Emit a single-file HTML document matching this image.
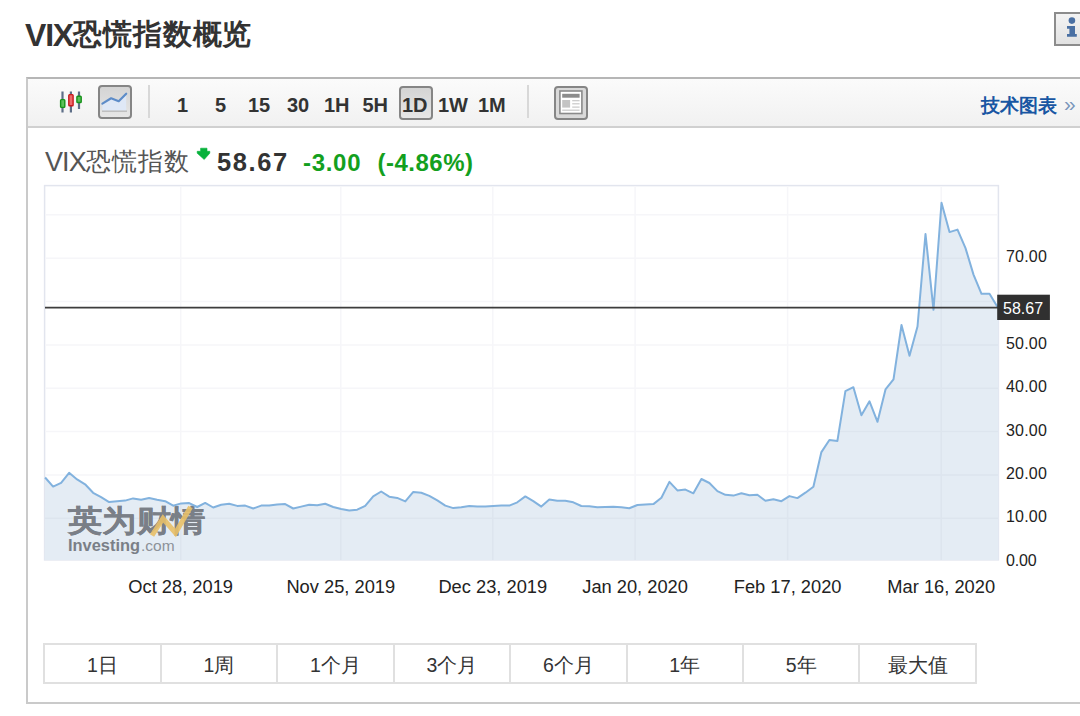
<!DOCTYPE html>
<html><head><meta charset="utf-8">
<style>
html,body{margin:0;padding:0;background:#fff;width:1080px;height:716px;overflow:hidden;position:relative;font-family:"Liberation Sans",sans-serif;}
.abs{position:absolute;}
#title{left:25px;top:14.8px;font-size:30px;font-weight:bold;color:#333;line-height:40px;white-space:nowrap}
#info{left:1054px;top:12px;width:40px;height:29.5px;border:2px solid #8c8c8c;background:linear-gradient(#f3f3f3,#e2e2e2);box-sizing:content-box}
#panel{left:26px;top:77px;width:1100px;height:623px;border:2px solid #cacaca;border-top-color:#b6b6b6;}
#toolbar{left:28px;top:79px;width:1100px;height:47px;background:linear-gradient(#fbfbfb,#f1f1f1);border-bottom:2px solid #d0d0d0;}
.tf{top:91px;font-size:20px;font-weight:bold;color:#333;line-height:28px;white-space:nowrap}
.btn{border:2px solid #858585;border-radius:4px;background:linear-gradient(#d4d4d4,#e6e6e6);box-sizing:border-box}
.sep{width:2px;background:#d8d8d8}
#tech{left:981px;top:90.5px;font-size:19px;font-weight:bold;color:#1856a3;line-height:30px;white-space:nowrap}
#raquo{left:1064px;top:88.5px;font-size:21px;color:#7a96bb;line-height:30px;font-weight:normal}
#qname{left:45px;top:146px;font-size:25.6px;color:#555;line-height:32px;white-space:nowrap}
#qprice{left:217px;top:146px;font-size:25.5px;font-weight:bold;color:#333;line-height:32px;white-space:nowrap;letter-spacing:1.6px}
#qchg{left:303px;top:148px;font-size:24px;font-weight:bold;color:#13a01e;line-height:30px;white-space:nowrap;letter-spacing:0.7px}
#qpct{left:377.5px;top:148px;font-size:24px;font-weight:bold;color:#13a01e;line-height:30px;white-space:nowrap;letter-spacing:0.5px}
.cell{position:absolute;top:643px;height:41px;border:2px solid #e0e0e0;border-right:none;box-sizing:border-box;text-align:center;font-size:19.5px;line-height:40px;color:#333}
svg text{font-family:"Liberation Sans",sans-serif;}
</style></head><body>
<div id="title" class="abs"><span style="font-size:32px;letter-spacing:-1.2px">VIX</span><span style="font-size:28.5px;letter-spacing:0.9px;position:relative;top:-2px">恐慌指数概览</span></div>
<div id="info" class="abs">
 <svg width="30" height="31" style="position:absolute;left:0;top:0">
  <circle cx="15.9" cy="6.6" r="3.3" fill="#4a70a3"/>
  <path d="M11,12 H19 V20 H20.8 V22.8 H11 V20 H13.4 V14.8 H11 Z" fill="#4a70a3"/>
 </svg>
</div>
<div id="panel" class="abs"></div>
<div id="toolbar" class="abs"></div>
<svg class="abs" style="left:0;top:0" width="1080" height="130">
 <g stroke="#5e6f88" stroke-width="2.2">
  <line x1="62.5" y1="91.5" x2="62.5" y2="112.5"/><line x1="70.9" y1="91.5" x2="70.9" y2="112.5"/><line x1="79" y1="91.5" x2="79" y2="109"/>
 </g>
 <rect x="60.6" y="99.6" width="4.2" height="7.8" rx="0.8" fill="#5cc05a" stroke="#15921a" stroke-width="1.4"/>
 <rect x="68.8" y="94.6" width="4.3" height="11.2" rx="0.8" fill="#ec6b6b" stroke="#c8191e" stroke-width="1.4"/>
 <rect x="76.9" y="96.3" width="4.3" height="6.2" rx="0.8" fill="#5cc05a" stroke="#15921a" stroke-width="1.4"/>
</svg>
<div class="abs btn" style="left:98px;top:85px;width:34px;height:34px"></div>
<svg class="abs" style="left:0;top:0" width="1080" height="130">
 <path d="M102.4,103.6 L111.1,98.3 L118.7,101.2 L126.2,93.7 L126.2,111 L102.4,111 Z" fill="#dfe8f6"/>
 <polyline points="102.4,103.6 111.1,98.3 118.7,101.2 126.2,93.7" fill="none" stroke="#5d8cc8" stroke-width="2.2" stroke-linejoin="round" stroke-linecap="round"/>
 <line x1="102" y1="111.2" x2="127" y2="111.2" stroke="#bdbdbd" stroke-width="1.5"/>
</svg>
<div class="abs sep" style="left:148px;top:85px;height:33px"></div>
<div class="abs tf" style="left:177px">1</div>
<div class="abs tf" style="left:215px">5</div>
<div class="abs tf" style="left:248px">15</div>
<div class="abs tf" style="left:287px">30</div>
<div class="abs tf" style="left:324px">1H</div>
<div class="abs tf" style="left:362.5px">5H</div>
<div class="abs btn" style="left:399px;top:85.5px;width:33.5px;height:34px"></div>
<div class="abs tf" style="left:402px">1D</div>
<div class="abs tf" style="left:438px">1W</div>
<div class="abs tf" style="left:478px">1M</div>
<div class="abs sep" style="left:526.5px;top:85px;height:33px"></div>
<div class="abs btn" style="left:554px;top:85.5px;width:33.5px;height:34px;background:#d9d9d9"></div>
<svg class="abs" style="left:0;top:0" width="1080" height="130">
 <rect x="559.9" y="91" width="22" height="22.5" fill="#fff" stroke="#8a8a8a" stroke-width="1.6"/>
 <rect x="562.2" y="93.8" width="17.4" height="3.9" fill="#8c8c8c"/>
 <rect x="562.2" y="100" width="7.9" height="7.6" fill="#c4c4c4"/>
 <g stroke="#c8c8c8" stroke-width="1.2"><line x1="572.2" x2="579.6" y1="100.7" y2="100.7"/><line x1="572.2" x2="579.6" y1="103.8" y2="103.8"/><line x1="572.2" x2="579.6" y1="107.1" y2="107.1"/><line x1="562.2" x2="579.6" y1="110.2" y2="110.2"/></g>
</svg>
<div id="tech" class="abs">技术图表</div>
<div id="raquo" class="abs">&raquo;</div>

<div id="qname" class="abs"><span style="font-size:27px;letter-spacing:-0.9px">VIX</span><span style="font-size:24.6px;letter-spacing:1px;position:relative;top:-1px">恐慌指数</span></div>
<svg class="abs" style="left:196px;top:147px" width="16" height="14">
 <path d="M4.6,1.2 H11 V4.3 H13.8 V6.2 L8.2,12.5 L1.2,6.2 V4.3 H4.6 Z" fill="#07b13b" stroke="#07b13b" stroke-width="0.6" stroke-linejoin="round"/>
</svg>
<div id="qprice" class="abs">58.67</div>
<div id="qchg" class="abs">-3.00</div>
<div id="qpct" class="abs">(-4.86%)</div>

<svg class="abs" style="left:0;top:0" width="1080" height="716">
 <rect x="44.6" y="185.6" width="953.8" height="374.3" fill="#fff" stroke="#e2e5ee" stroke-width="1.5"/>
 <g stroke="#f6f6f9" stroke-width="1.5"><line x1="45" x2="998" y1="518.2" y2="518.2"/><line x1="45" x2="998" y1="474.9" y2="474.9"/><line x1="45" x2="998" y1="431.6" y2="431.6"/><line x1="45" x2="998" y1="388.2" y2="388.2"/><line x1="45" x2="998" y1="344.9" y2="344.9"/><line x1="45" x2="998" y1="301.5" y2="301.5"/><line x1="45" x2="998" y1="258.2" y2="258.2"/><line x1="45" x2="998" y1="214.8" y2="214.8"/><line x1="180.7" x2="180.7" y1="186" y2="559.9"/><line x1="340.8" x2="340.8" y1="186" y2="559.9"/><line x1="492.8" x2="492.8" y1="186" y2="559.9"/><line x1="635.1" x2="635.1" y1="186" y2="559.9"/><line x1="787.6" x2="787.6" y1="186" y2="559.9"/><line x1="941.2" x2="941.2" y1="186" y2="559.9"/></g>
 <path d="M44.6,559.9 L45.1,477.5 L53.1,486.6 L61.1,482.9 L69.1,472.8 L77.1,479.4 L85.1,484.3 L93.1,492.8 L101.1,497.2 L109.1,502.1 L117.1,501.2 L125.1,500.6 L133.1,498.4 L141.1,499.7 L149.1,498.0 L157.1,499.7 L165.2,501.2 L173.2,505.7 L181.2,503.4 L189.2,503.1 L197.2,507.0 L205.2,502.9 L213.2,507.5 L221.2,504.8 L229.2,503.8 L237.2,505.9 L245.2,505.6 L253.2,508.5 L261.2,505.6 L269.2,505.6 L277.2,504.4 L285.2,504.1 L293.2,508.5 L301.2,506.6 L309.2,504.8 L317.2,505.3 L325.2,503.8 L333.2,507.0 L341.2,509.0 L349.2,510.5 L357.2,509.7 L365.2,505.9 L373.2,496.4 L381.2,491.5 L389.2,496.7 L397.2,497.9 L405.3,501.4 L413.3,491.9 L421.3,492.7 L429.3,495.9 L437.3,500.4 L445.3,505.6 L453.3,508.1 L461.3,507.3 L469.3,505.9 L477.3,506.4 L485.3,506.4 L493.3,505.9 L501.3,505.6 L509.3,505.6 L517.3,502.3 L525.3,496.4 L533.3,501.1 L541.3,506.6 L549.3,499.6 L557.3,500.7 L565.3,500.8 L573.3,502.3 L581.3,506.0 L589.3,506.3 L597.3,507.3 L605.3,507.0 L613.3,506.7 L621.3,507.3 L629.3,508.2 L637.4,505.0 L645.4,504.4 L653.4,504.1 L661.4,497.8 L669.4,481.9 L677.4,490.4 L685.4,489.6 L693.4,493.3 L701.4,479.0 L709.4,483.0 L717.4,491.1 L725.4,494.8 L733.4,495.6 L741.4,493.3 L749.4,495.3 L757.4,494.8 L765.4,500.7 L773.4,499.3 L781.4,501.2 L789.4,496.1 L797.4,498.1 L805.4,492.7 L813.4,486.7 L821.4,452.1 L829.4,440.0 L837.4,440.9 L845.4,391.1 L853.4,387.2 L861.4,415.3 L869.5,401.3 L877.5,421.8 L885.5,389.4 L893.5,379.3 L901.5,325.0 L909.5,355.8 L917.5,326.5 L925.5,234.0 L933.5,309.8 L941.5,202.7 L949.5,232.1 L957.5,229.6 L965.5,248.1 L973.5,274.6 L981.5,293.8 L989.5,293.8 L997.5,306.9 L998.4,306.9 L998.4,559.9 Z" fill="#e4ecf4"/>
 <clipPath id="ac"><path d="M44.6,559.9 L45.1,477.5 L53.1,486.6 L61.1,482.9 L69.1,472.8 L77.1,479.4 L85.1,484.3 L93.1,492.8 L101.1,497.2 L109.1,502.1 L117.1,501.2 L125.1,500.6 L133.1,498.4 L141.1,499.7 L149.1,498.0 L157.1,499.7 L165.2,501.2 L173.2,505.7 L181.2,503.4 L189.2,503.1 L197.2,507.0 L205.2,502.9 L213.2,507.5 L221.2,504.8 L229.2,503.8 L237.2,505.9 L245.2,505.6 L253.2,508.5 L261.2,505.6 L269.2,505.6 L277.2,504.4 L285.2,504.1 L293.2,508.5 L301.2,506.6 L309.2,504.8 L317.2,505.3 L325.2,503.8 L333.2,507.0 L341.2,509.0 L349.2,510.5 L357.2,509.7 L365.2,505.9 L373.2,496.4 L381.2,491.5 L389.2,496.7 L397.2,497.9 L405.3,501.4 L413.3,491.9 L421.3,492.7 L429.3,495.9 L437.3,500.4 L445.3,505.6 L453.3,508.1 L461.3,507.3 L469.3,505.9 L477.3,506.4 L485.3,506.4 L493.3,505.9 L501.3,505.6 L509.3,505.6 L517.3,502.3 L525.3,496.4 L533.3,501.1 L541.3,506.6 L549.3,499.6 L557.3,500.7 L565.3,500.8 L573.3,502.3 L581.3,506.0 L589.3,506.3 L597.3,507.3 L605.3,507.0 L613.3,506.7 L621.3,507.3 L629.3,508.2 L637.4,505.0 L645.4,504.4 L653.4,504.1 L661.4,497.8 L669.4,481.9 L677.4,490.4 L685.4,489.6 L693.4,493.3 L701.4,479.0 L709.4,483.0 L717.4,491.1 L725.4,494.8 L733.4,495.6 L741.4,493.3 L749.4,495.3 L757.4,494.8 L765.4,500.7 L773.4,499.3 L781.4,501.2 L789.4,496.1 L797.4,498.1 L805.4,492.7 L813.4,486.7 L821.4,452.1 L829.4,440.0 L837.4,440.9 L845.4,391.1 L853.4,387.2 L861.4,415.3 L869.5,401.3 L877.5,421.8 L885.5,389.4 L893.5,379.3 L901.5,325.0 L909.5,355.8 L917.5,326.5 L925.5,234.0 L933.5,309.8 L941.5,202.7 L949.5,232.1 L957.5,229.6 L965.5,248.1 L973.5,274.6 L981.5,293.8 L989.5,293.8 L997.5,306.9 L998.4,306.9 L998.4,559.9 Z"/></clipPath><g stroke="#dde5ee" stroke-width="1.5" clip-path="url(#ac)"><line x1="180.7" x2="180.7" y1="186" y2="559.9"/><line x1="340.8" x2="340.8" y1="186" y2="559.9"/><line x1="492.8" x2="492.8" y1="186" y2="559.9"/><line x1="635.1" x2="635.1" y1="186" y2="559.9"/><line x1="787.6" x2="787.6" y1="186" y2="559.9"/><line x1="941.2" x2="941.2" y1="186" y2="559.9"/><line x1="45" x2="998" y1="518.2" y2="518.2"/><line x1="45" x2="998" y1="474.9" y2="474.9"/><line x1="45" x2="998" y1="431.6" y2="431.6"/><line x1="45" x2="998" y1="388.2" y2="388.2"/><line x1="45" x2="998" y1="344.9" y2="344.9"/><line x1="45" x2="998" y1="301.5" y2="301.5"/><line x1="45" x2="998" y1="258.2" y2="258.2"/><line x1="45" x2="998" y1="214.8" y2="214.8"/></g>
 <text x="68" y="531.2" font-size="30" font-weight="bold" fill="#7a7f87" stroke="#7a7f87" stroke-width="0.2" textLength="137" lengthAdjust="spacingAndGlyphs">英为财情</text>
 <polyline points="152,535.5 163,518.5 175.5,533 190.5,507" fill="none" stroke="#e8c068" stroke-width="5" stroke-linejoin="miter" opacity="0.9"/>
 <text x="68" y="550.6" font-size="16.5" font-weight="bold" fill="#7a7f87" textLength="72" lengthAdjust="spacingAndGlyphs">Investing</text>
 <text x="141" y="550.6" font-size="15.5" fill="#8c9198">.com</text>
 <polyline points="45.1,477.5 53.1,486.6 61.1,482.9 69.1,472.8 77.1,479.4 85.1,484.3 93.1,492.8 101.1,497.2 109.1,502.1 117.1,501.2 125.1,500.6 133.1,498.4 141.1,499.7 149.1,498.0 157.1,499.7 165.2,501.2 173.2,505.7 181.2,503.4 189.2,503.1 197.2,507.0 205.2,502.9 213.2,507.5 221.2,504.8 229.2,503.8 237.2,505.9 245.2,505.6 253.2,508.5 261.2,505.6 269.2,505.6 277.2,504.4 285.2,504.1 293.2,508.5 301.2,506.6 309.2,504.8 317.2,505.3 325.2,503.8 333.2,507.0 341.2,509.0 349.2,510.5 357.2,509.7 365.2,505.9 373.2,496.4 381.2,491.5 389.2,496.7 397.2,497.9 405.3,501.4 413.3,491.9 421.3,492.7 429.3,495.9 437.3,500.4 445.3,505.6 453.3,508.1 461.3,507.3 469.3,505.9 477.3,506.4 485.3,506.4 493.3,505.9 501.3,505.6 509.3,505.6 517.3,502.3 525.3,496.4 533.3,501.1 541.3,506.6 549.3,499.6 557.3,500.7 565.3,500.8 573.3,502.3 581.3,506.0 589.3,506.3 597.3,507.3 605.3,507.0 613.3,506.7 621.3,507.3 629.3,508.2 637.4,505.0 645.4,504.4 653.4,504.1 661.4,497.8 669.4,481.9 677.4,490.4 685.4,489.6 693.4,493.3 701.4,479.0 709.4,483.0 717.4,491.1 725.4,494.8 733.4,495.6 741.4,493.3 749.4,495.3 757.4,494.8 765.4,500.7 773.4,499.3 781.4,501.2 789.4,496.1 797.4,498.1 805.4,492.7 813.4,486.7 821.4,452.1 829.4,440.0 837.4,440.9 845.4,391.1 853.4,387.2 861.4,415.3 869.5,401.3 877.5,421.8 885.5,389.4 893.5,379.3 901.5,325.0 909.5,355.8 917.5,326.5 925.5,234.0 933.5,309.8 941.5,202.7 949.5,232.1 957.5,229.6 965.5,248.1 973.5,274.6 981.5,293.8 989.5,293.8 997.5,306.9" fill="none" stroke="#82b2de" stroke-width="2" stroke-linejoin="round"/>
 <line x1="45" x2="998" y1="307.6" y2="307.6" stroke="#3d3d3d" stroke-width="1.6"/>
 <rect x="997.2" y="294.7" width="52.7" height="25.3" fill="#303030"/>
 <text x="1003" y="314.3" font-size="16" fill="#fff">58.67</text>
 <g font-size="16" fill="#222"><text x="1006" y="565.6" textLength="30.6">0.00</text><text x="1006" y="522.2" textLength="40.8">10.00</text><text x="1006" y="478.9" textLength="40.8">20.00</text><text x="1006" y="435.5" textLength="40.8">30.00</text><text x="1006" y="392.2" textLength="40.8">40.00</text><text x="1006" y="348.8" textLength="40.8">50.00</text><text x="1006" y="262.1" textLength="40.8">70.00</text></g>
 <g font-size="18.3" fill="#222"><text x="180.7" y="593" text-anchor="middle">Oct 28, 2019</text><text x="340.8" y="593" text-anchor="middle">Nov 25, 2019</text><text x="492.8" y="593" text-anchor="middle">Dec 23, 2019</text><text x="635.1" y="593" text-anchor="middle">Jan 20, 2020</text><text x="787.6" y="593" text-anchor="middle">Feb 17, 2020</text><text x="941.2" y="593" text-anchor="middle">Mar 16, 2020</text></g>
</svg>
<div class="cell" style="left:43.30px;width:116.45px;">1日</div><div class="cell" style="left:159.75px;width:116.45px;">1周</div><div class="cell" style="left:276.20px;width:116.45px;">1个月</div><div class="cell" style="left:392.65px;width:116.45px;">3个月</div><div class="cell" style="left:509.10px;width:116.45px;">6个月</div><div class="cell" style="left:625.55px;width:116.45px;">1年</div><div class="cell" style="left:742.00px;width:116.45px;">5年</div><div class="cell" style="left:858.45px;width:118.45px;border-right:2px solid #e0e0e0">最大值</div>
</body></html>
